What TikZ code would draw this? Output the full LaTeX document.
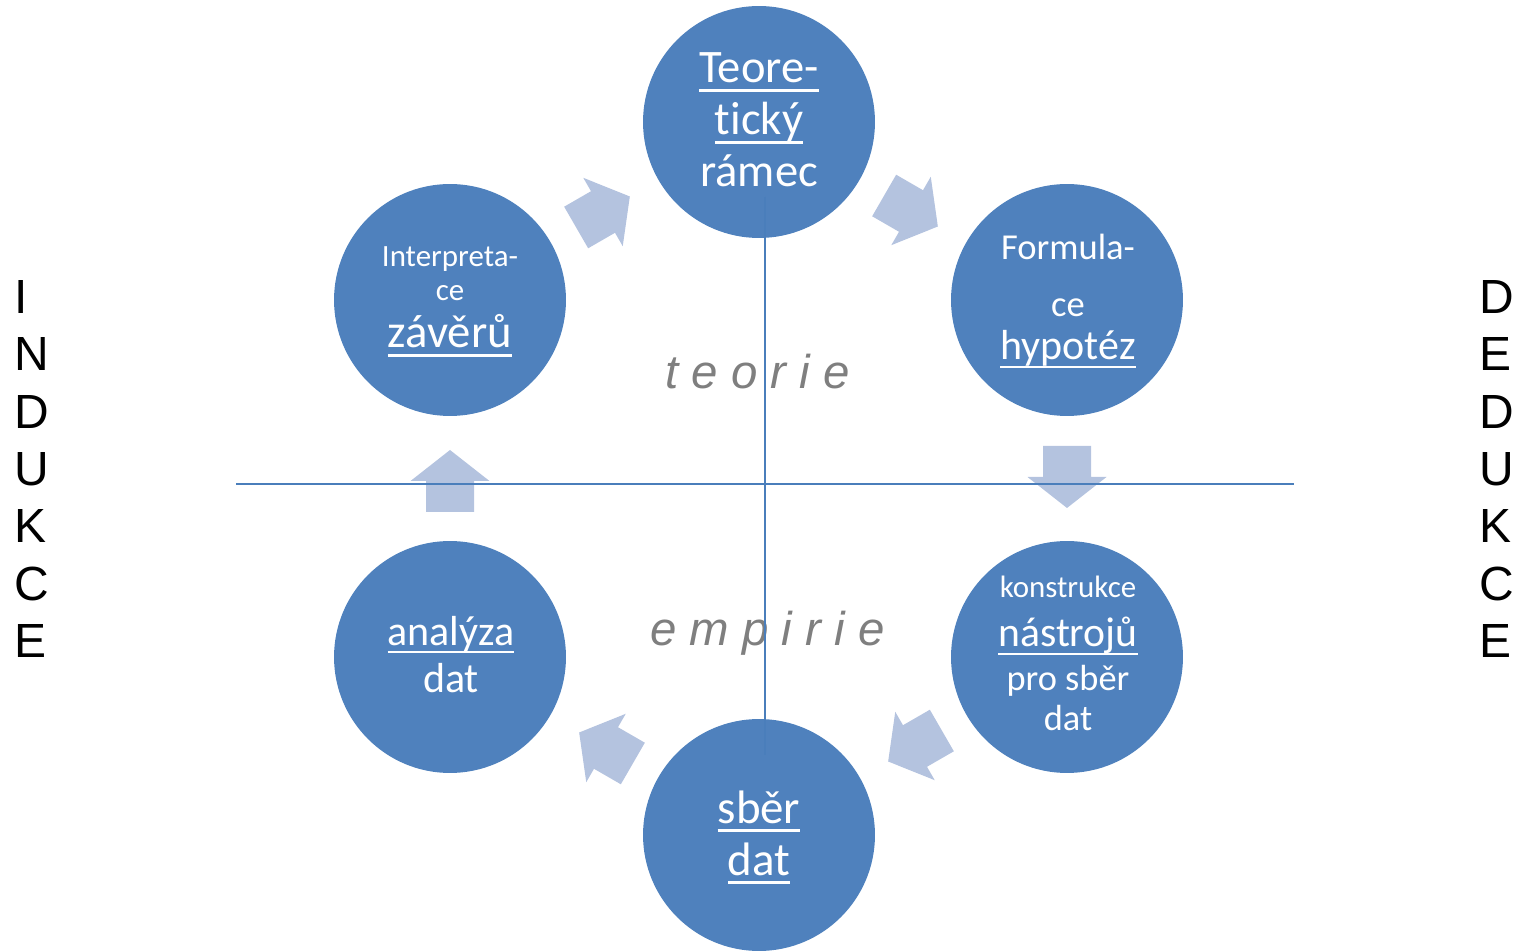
\documentclass[tikz,border=0pt]{standalone}
\usepackage{fontspec}
\setmainfont{Carlito}[Ligatures=NoCommon]
\newfontfamily\arial{Liberation Sans}

\definecolor{kruhmodra}{HTML}{4F81BD}
\definecolor{sipkamodra}{HTML}{B4C3DF}
\definecolor{caramodra}{HTML}{4A7EBB}
\definecolor{seda}{HTML}{7F7F7F}

\newcommand{\podtrh}[1]{\setbox0\hbox{#1}\rlap{\rule[-0.2em]{\wd0}{0.065em}}\box0}
\newcommand{\sipka}[3]{\fill[sipkamodra, shift={(#1,#2)}, rotate=#3] (-31,-24) -- (0,-24) -- (0,-39.5) -- (31,0) -- (0,39.5) -- (0,24) -- (-31,24) -- cycle;}

\begin{document}
\begin{tikzpicture}[x=0.02cm, y=-0.02cm,
    kruh/.style={circle, fill=kruhmodra, minimum size=4.64cm, inner sep=0pt},
    popis/.style={text=white, anchor=base, inner sep=0pt},
    cara/.style={draw=caramodra, line width=1.1pt}]
    \useasboundingbox (0,0) rectangle (1522,952);

    % 円を描く
    \node[kruh] (ramec) at (759,122) {};
    \node[kruh] (interpretace) at (450,300) {};
    \node[kruh] (formulace) at (1067,300) {};
    \node[kruh] (analyza) at (450,657) {};
    \node[kruh] (konstrukce) at (1067,657) {};
    \node[kruh] (sber) at (759,835) {};

    % 矢印
    \sipka{603}{212}{30}
    \sipka{911}{211}{-30}
    \sipka{1067}{477}{-90}
    \sipka{915}{746}{210}
    \sipka{606}{748}{150}
    \sipka{450}{481}{90}

    % 値を入れる
    \node[popis, font=\fontsize{26.5}{31}\selectfont] (r1) at (759,83) {\podtrh{Teore-}};
    \node[popis, font=\fontsize{26.5}{31}\selectfont] (r2) at (759,135) {\podtrh{tický}};
    \node[popis, font=\fontsize{26.5}{31}\selectfont] (r3) at (759,187) {rámec};

    \node[popis, font=\fontsize{17.6}{21}\selectfont] (i1) at (450,267) {Interpreta-};
    \node[popis, font=\fontsize{17.6}{21}\selectfont] (i2) at (450,301) {ce};
    \node[popis, font=\fontsize{26.6}{31}\selectfont] (i3) at (450,348) {\podtrh{závěrů}};

    \node[popis, font=\fontsize{20.8}{25}\selectfont] (f1) at (1068,260) {Formula-};
    \node[popis, font=\fontsize{20.8}{25}\selectfont] (f2) at (1068,317) {ce};
    \node[popis, font=\fontsize{23.9}{28}\selectfont] (f3) at (1068,360) {\podtrh{hypotéz}};

    \node[popis, font=\fontsize{23.9}{28}\selectfont] (a1) at (451,645) {\podtrh{analýza}};
    \node[popis, font=\fontsize{23.9}{28}\selectfont] (a2) at (451,693) {dat};

    \node[popis, font=\fontsize{17.6}{21}\selectfont] (k1) at (1068,598) {konstrukce};
    \node[popis, font=\fontsize{23.7}{28}\selectfont] (k2) at (1068,647) {\podtrh{nástrojů}};
    \node[popis, font=\fontsize{20.7}{25}\selectfont] (k3) at (1068,690) {pro sběr};
    \node[popis, font=\fontsize{20.7}{25}\selectfont] (k4) at (1068,730) {dat};

    \node[popis, font=\fontsize{26.7}{31}\selectfont] (s1) at (759,823) {\podtrh{sběr}};
    \node[popis, font=\fontsize{26.7}{31}\selectfont] (s2) at (759,875) {\podtrh{dat}};

    \node[anchor=base, inner sep=0pt, text=seda, font=\arial\itshape\fontsize{27}{32}\selectfont] (teorie) at (757.5,389) {t e o r i e};
    \node[anchor=base, inner sep=0pt, text=seda, font=\arial\itshape\fontsize{27}{32}\selectfont] (empirie) at (767.5,645) {e m p i r i e};

    \node[anchor=west, inner sep=0pt, align=left, font=\arial\fontsize{27.3}{32.6}\selectfont] (indukce) at (14,469) {I\\N\\D\\U\\K\\C\\E};
    \node[anchor=west, inner sep=0pt, align=left, font=\arial\fontsize{27.3}{32.6}\selectfont] (dedukce) at (1479,469) {D\\E\\D\\U\\K\\C\\E};

    % 線を引く
    \coordinate (levy) at (236,484);
    \coordinate (pravy) at (1294,484);
    \coordinate (horni) at (765,197);
    \coordinate (dolni) at (765,755);
    \draw[cara] (levy) -- (pravy);
    \draw[cara] (horni) -- (dolni);
  \end{tikzpicture}
\end{document}
